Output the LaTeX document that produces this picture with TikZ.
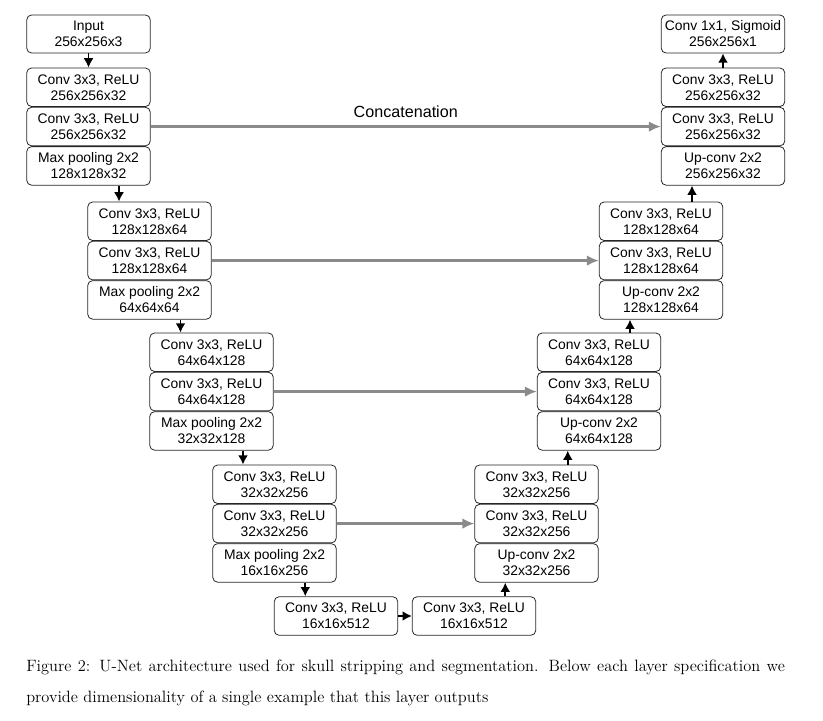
\documentclass[tikz,border=0pt]{standalone}
\usepackage{fontspec}
\setsansfont{Liberation Sans}
\usepackage{tikz}
\usetikzlibrary{arrows.meta,positioning,calc}

\definecolor{skipgray}{RGB}{138,138,138}
\tikzset{
  layer/.style={draw=black!85, line width=0.6pt, rounded corners=3.6pt,
    minimum width=92.6pt, minimum height=28.9pt, inner sep=0pt, align=center,
    font=\sffamily\fontsize{10.4}{12}\selectfont},
  flow/.style={-{Latex[length=7pt,width=7.5pt]}, line width=1.4pt},
  skip/.style={-{Latex[length=9pt,width=8pt]}, line width=1.9pt, draw=skipgray, skipgray},
  caption/.style={anchor=base west, inner sep=0pt, font=\rmfamily\fontsize{12.3}{14}\selectfont}
}

\begin{document}
\begin{tikzpicture}[x=0.75pt,y=-0.75pt]
        \useasboundingbox (0,0) rectangle (823,720);
        % contracting path
        \node[layer, minimum height=28.5pt] (in) at (88.5,34) {Input\\256x256x3};
        \node[layer] (c1a) at (88.5,87.25) {Conv 3x3, ReLU\\256x256x32};
        \node[layer, below=0pt of c1a] (c1b) {Conv 3x3, ReLU\\256x256x32};
        \node[layer, below=0pt of c1b] (c1c) {Max pooling 2x2\\128x128x32};
        \node[layer] (c2a) at (149.5,221.25) {Conv 3x3, ReLU\\128x128x64};
        \node[layer, below=0pt of c2a] (c2b) {Conv 3x3, ReLU\\128x128x64};
        \node[layer, below=0pt of c2b] (c2c) {Max pooling 2x2\\64x64x64};
        \node[layer] (c3a) at (211.5,352.25) {Conv 3x3, ReLU\\64x64x128};
        \node[layer, below=0pt of c3a] (c3b) {Conv 3x3, ReLU\\64x64x128};
        \node[layer, below=0pt of c3b] (c3c) {Max pooling 2x2\\32x32x128};
        \node[layer] (c4a) at (274.5,484.25) {Conv 3x3, ReLU\\32x32x256};
        \node[layer, below=0pt of c4a] (c4b) {Conv 3x3, ReLU\\32x32x256};
        \node[layer, below=0pt of c4b] (c4c) {Max pooling 2x2\\16x16x256};
        % bottleneck
        \node[layer] (b1) at (336,616) {Conv 3x3, ReLU\\16x16x512};
        \node[layer] (b2) at (474,616) {Conv 3x3, ReLU\\16x16x512};
        % expanding path
        \node[layer] (r4a) at (536.5,484.25) {Conv 3x3, ReLU\\32x32x256};
        \node[layer, below=0pt of r4a] (r4b) {Conv 3x3, ReLU\\32x32x256};
        \node[layer, below=0pt of r4b] (r4c) {Up-conv 2x2\\32x32x256};
        \node[layer] (r3a) at (599,352.25) {Conv 3x3, ReLU\\64x64x128};
        \node[layer, below=0pt of r3a] (r3b) {Conv 3x3, ReLU\\64x64x128};
        \node[layer, below=0pt of r3b] (r3c) {Up-conv 2x2\\64x64x128};
        \node[layer] (r2a) at (661,221.25) {Conv 3x3, ReLU\\128x128x64};
        \node[layer, below=0pt of r2a] (r2b) {Conv 3x3, ReLU\\128x128x64};
        \node[layer, below=0pt of r2b] (r2c) {Up-conv 2x2\\128x128x64};
        \node[layer] (r1a) at (723,87.25) {Conv 3x3, ReLU\\256x256x32};
        \node[layer, below=0pt of r1a] (r1b) {Conv 3x3, ReLU\\256x256x32};
        \node[layer, below=0pt of r1b] (r1c) {Up-conv 2x2\\256x256x32};
        \node[layer, minimum height=28.5pt] (out) at (723,34) {Conv 1x1, Sigmoid\\256x256x1};
        % arrow positions between overlapping columns
        \coordinate (m1) at ($(c1c.east)!.5!(c2a.west)$);
        \coordinate (m2) at ($(c2c.east)!.5!(c3a.west)$);
        \coordinate (m3) at ($(c3c.east)!.5!(c4a.west)$);
        \coordinate (m4) at ($(c4c.east)!.5!(b1.west)$);
        \coordinate (m5) at ($(b2.east)!.5!(r4c.west)$);
        \coordinate (m6) at ($(r4a.east)!.5!(r3c.west)$);
        \coordinate (m7) at ($(r3a.east)!.5!(r2c.west)$);
        \coordinate (m8) at ($(r2a.east)!.5!(r1c.west)$);
        \path[flow] (in) edge (c1a);
        \path[flow] (m1 |- c1c.south) edge (m1 |- c2a.north);
        \path[flow] (m2 |- c2c.south) edge (m2 |- c3a.north);
        \path[flow] (m3 |- c3c.south) edge (m3 |- c4a.north);
        \path[flow] (m4 |- c4c.south) edge (m4 |- b1.north);
        \path[flow] (b1) edge (b2);
        \path[flow] (m5 |- b2.north) edge (m5 |- r4c.south);
        \path[flow] (m6 |- r4a.north) edge (m6 |- r3c.south);
        \path[flow] (m7 |- r3a.north) edge (m7 |- r2c.south);
        \path[flow] (m8 |- r2a.north) edge (m8 |- r1c.south);
        \path[flow] (r1a) edge (out);
        % skip connections
        \path[skip] (c1b) edge (r1b);
        \path[skip] (c2b) edge (r2b);
        \path[skip] (c3b) edge (r3b);
        \path[skip] (c4b) edge (r4b);
        \node[above=3pt, font=\sffamily\fontsize{12.1}{14}\selectfont] (concat)
          at ($(c1b.east)!.5!(r1b.west)$) {Concatenation};
        % caption
        \node[caption] (cap1) at (26,671) {\makebox[569pt][s]{Figure 2: U-Net architecture used for skull stripping and segmentation. Below each layer specification we}};
        \node[caption] (cap2) at (26,702) {provide dimensionality of a single example that this layer outputs};
      \end{tikzpicture}
\end{document}
